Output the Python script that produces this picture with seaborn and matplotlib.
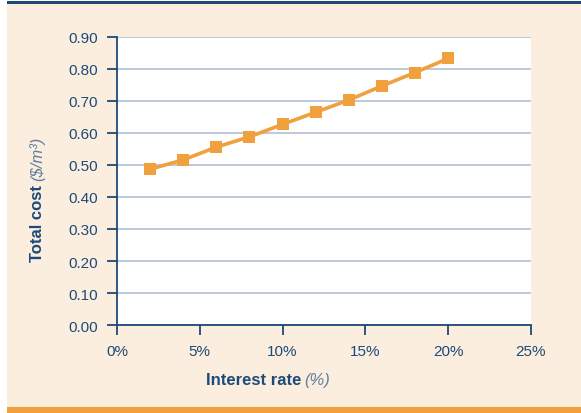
import matplotlib
matplotlib.use("Agg")
import matplotlib.pyplot as plt
import seaborn as sns
import pandas as pd
from matplotlib.patches import Rectangle
from matplotlib.ticker import FuncFormatter

# data
interest_rate = [2, 4, 6, 8, 10, 12, 14, 16, 18, 20]
total_cost = [0.487, 0.516, 0.556, 0.588, 0.627, 0.665, 0.703, 0.747, 0.789, 0.833]
x_ticks = [0, 5, 10, 15, 20, 25]
y_ticks = [0.0, 0.1, 0.2, 0.3, 0.4, 0.5, 0.6, 0.7, 0.8, 0.9]

df = pd.DataFrame({"rate": interest_rate, "cost": total_cost})

sns.set_theme(style="white")
plt.rcParams["font.family"] = ["Liberation Sans", "DejaVu Sans"]

navy = "#1d4a78"
orange = "#f0a03c"
cream = "#fbeedf"
grid_c = "#a9bccd"
unit_c = "#5f7fa0"

W, H = 581, 414
fig = plt.figure(figsize=(W / 100, H / 100), dpi=100, facecolor="white")

# panel background, top rule and bottom band (pixel coords -> figure fraction)
def px(x0, y0, x1, y1, color):
    fig.patches.append(Rectangle((x0 / W, 1 - y1 / H), (x1 - x0) / W, (y1 - y0) / H,
                                 transform=fig.transFigure, color=color, zorder=-5, lw=0))

px(7, 5, W, 408, cream)
px(7, 2, W, 5, navy)
px(7, 408, W, H, orange)

# axes: x 0..25 over px 117..531, y 0..0.9 over px 326..38
ax = fig.add_axes([117 / W, 1 - 326 / H, (531 - 117) / W, (326 - 38) / H])
ax.set_zorder(2)
ax.set_facecolor("white")

sns.lineplot(data=df, x="rate", y="cost", ax=ax, color=orange, lw=2.6,
             marker="s", markersize=8, markeredgewidth=0, zorder=3)

ax.set_xlim(0, 25)
ax.set_ylim(0, 0.9)
ax.set_xticks(x_ticks)
ax.set_yticks(y_ticks)
ax.xaxis.set_major_formatter(FuncFormatter(lambda v, p: f"{v:.0f}%"))
ax.yaxis.set_major_formatter(FuncFormatter(lambda v, p: f"{v:.2f}"))
ax.yaxis.grid(True, color=grid_c, lw=1.1)
ax.xaxis.grid(False)
ax.set_axisbelow(True)

for s in ["top", "right"]:
    ax.spines[s].set_visible(False)
for s in ["left", "bottom"]:
    ax.spines[s].set_color(navy)
    ax.spines[s].set_linewidth(1.3)
ax.tick_params(axis="both", colors=navy, labelcolor=navy, labelsize=11,
               direction="out", length=7, width=1.3, left=True, bottom=True)
ax.tick_params(axis="y", pad=7)
ax.tick_params(axis="x", pad=7)
ax.set_xlabel("")
ax.set_ylabel("")

# axis titles: bold part + lighter italic unit
fig.text(301 / W, 1 - 381 / H, "Interest rate", ha="right", va="center",
         color=navy, fontsize=12, fontweight="bold")
fig.text(304 / W, 1 - 381 / H, "(%)", ha="left", va="center",
         color=unit_c, fontsize=12, fontstyle="italic")

ty = fig.text(37 / W, 1 - 262 / H, "Total cost", ha="center", va="bottom", rotation=90,
              color=navy, fontsize=12, fontweight="bold")
ax.annotate("($/m³)", xy=(0.5, 1), xycoords=ty, xytext=(0, 3), textcoords="offset points",
            ha="center", va="bottom", rotation=90, color=unit_c, fontsize=12,
            fontstyle="italic", annotation_clip=False)

fig.savefig("out.png", dpi=100, facecolor=fig.get_facecolor())
